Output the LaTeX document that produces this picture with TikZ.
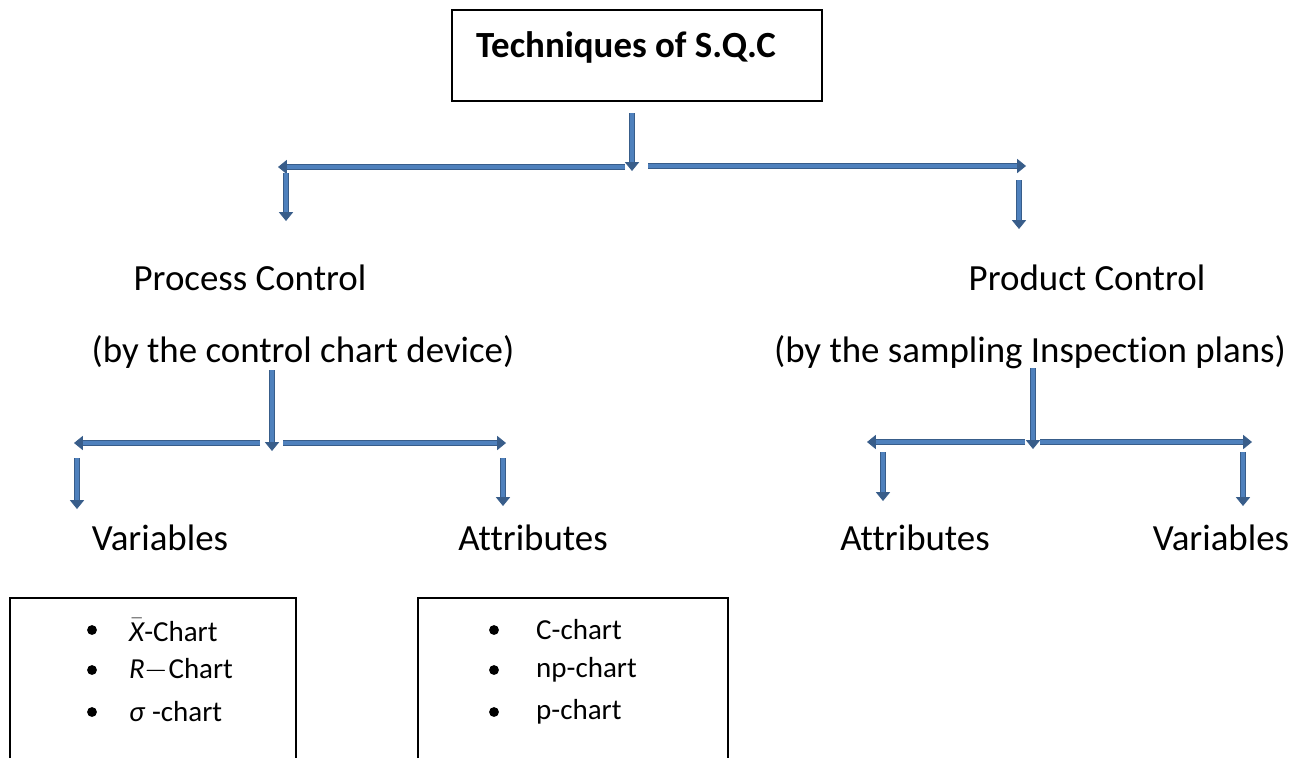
\documentclass[tikz,border=0pt]{standalone}
\usepackage{fontspec}
\setmainfont[Ligatures={NoCommon,NoRequired,NoContextual,NoRare}]{Carlito}
\usetikzlibrary{arrows.meta}
\definecolor{arrowfill}{HTML}{4F81BD}
\definecolor{arrowedge}{HTML}{385D8A}

\begin{document}
\begin{tikzpicture}[
x=0.02cm,y=-0.02cm,
box/.style={draw,line width=0.8pt},
head/.style={font=\fontsize{21}{25}\selectfont\bfseries},
label/.style={font=\fontsize{21}{25}\selectfont},
item/.style={font=\fontsize{16.5}{20}\selectfont,anchor=west},
dot/.style={circle,fill,inner sep=0pt,minimum size=5.6pt},
arrow/.style={draw=arrowedge,line width=0.5pt,double=arrowfill,double distance=2.6pt,-{Triangle[length=5pt,width=8pt]}}
]
\useasboundingbox (0,0) rectangle (1300,758);

% title
\node[box,minimum width=0.02*370cm,minimum height=0.02*91cm] (titlebox) at (637,55.5) {};
\node[head] (title) at (626,47) {Techniques of S.Q.C};

% first level
\node[label] (process) at (250,278) {Process Control};
\node[label] (processnote) at (303,352) {(by the control chart device)};
\node[label] (product) at (1087,278) {Product Control};
\node[label] (productnote) at (1030,352) {(by the sampling Inspection plans)};

% second level
\node[label] (pvar) at (160,538) {Variables};
\node[label] (patt) at (533,538) {Attributes};
\node[label] (qatt) at (915,538) {Attributes};
\node[label] (qvar) at (1221,538) {Variables};

% chart boxes
\draw[box] (10,758) -- (10,598) -- (296,598) -- (296,758);
\draw[box] (418,758) -- (418,598) -- (728,598) -- (728,758);
\node[dot] (b1) at (92,630) {};
\node[item] (x1) at (123,630) {$\bar{\textit{X}}$-Chart};
\node[dot] (b2) at (92,670) {};
\node[item] (x2) at (123,670) {\textit{R}$-$Chart};
\node[dot] (b3) at (92,712) {};
\node[item] (x3) at (123,712) {\textit{σ} -chart};
\node[dot] (c1) at (494,630) {};
\node[item] (y1) at (530,630) {C-chart};
\node[dot] (c2) at (494,670) {};
\node[item] (y2) at (530,670) {np-chart};
\node[dot] (c3) at (494,712) {};
\node[item] (y3) at (530,712) {p-chart};

% arrow ends
\coordinate (t0) at (632,113);
\coordinate (t1) at (632,171);
\coordinate (tl0) at (625,167);
\coordinate (tl1) at (278,167);
\coordinate (tr0) at (648,166);
\coordinate (tr1) at (1026,166);
\coordinate (pd0) at (286,173);
\coordinate (pd1) at (286,221);
\coordinate (qd0) at (1019,180);
\coordinate (qd1) at (1019,229);

\coordinate (p0) at (272,370);
\coordinate (p1) at (272,451);
\coordinate (pl0) at (260,443);
\coordinate (pl1) at (74,443);
\coordinate (pr0) at (283,443);
\coordinate (pr1) at (506,443);
\coordinate (pvd0) at (77,458);
\coordinate (pvd1) at (77,509);
\coordinate (pad0) at (503,458);
\coordinate (pad1) at (503,506);

\coordinate (q0) at (1033,368);
\coordinate (q1) at (1033,449);
\coordinate (ql0) at (1025,442);
\coordinate (ql1) at (867,442);
\coordinate (qr0) at (1040,442);
\coordinate (qr1) at (1252,442);
\coordinate (qad0) at (883,452);
\coordinate (qad1) at (883,501);
\coordinate (qvd0) at (1243,452);
\coordinate (qvd1) at (1243,506);

\draw[arrow] (t0) -- (t1);
\draw[arrow] (tl0) -- (tl1);
\draw[arrow] (tr0) -- (tr1);
\draw[arrow] (pd0) -- (pd1);
\draw[arrow] (qd0) -- (qd1);

\draw[arrow] (p0) -- (p1);
\draw[arrow] (pl0) -- (pl1);
\draw[arrow] (pr0) -- (pr1);
\draw[arrow] (pvd0) -- (pvd1);
\draw[arrow] (pad0) -- (pad1);

\draw[arrow] (q0) -- (q1);
\draw[arrow] (ql0) -- (ql1);
\draw[arrow] (qr0) -- (qr1);
\draw[arrow] (qad0) -- (qad1);
\draw[arrow] (qvd0) -- (qvd1);
\end{tikzpicture}
\end{document}
